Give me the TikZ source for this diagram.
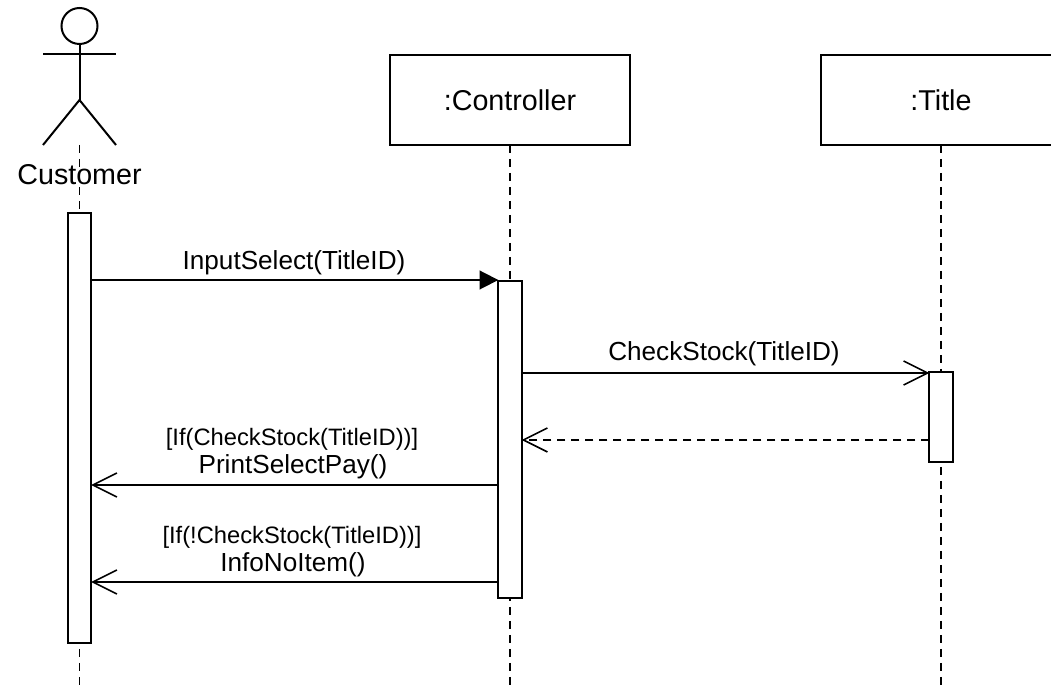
\documentclass[tikz,border=0pt]{standalone}
\usepackage{fontspec}
\setmainfont{Liberation Sans}
\usetikzlibrary{arrows.meta}
\tikzset{%
  classbox/.style={draw,line width=1.5pt,minimum width=179.5pt,minimum height=67.5pt,
    inner sep=0pt,outer sep=0pt,font=\fontsize{21.5}{25}\selectfont},%
  actbar/.style={draw,line width=1.5pt,fill=white,minimum width=17.5pt,
    inner sep=0pt,outer sep=0pt,anchor=north},%
  lifeline/.style={dashed,line width=1.3pt,dash pattern=on 6pt off 4.5pt},%
  stick/.style={line width=1.5pt},%
  msgcall/.style={line width=1.3pt,-{Triangle[length=14pt,width=14pt]}},%
  msgopen/.style={line width=1.3pt,-{Straight Barb[length=18pt,width=18pt,line width=1.2pt]}},%
  msgback/.style={msgopen,dashed,dash pattern=on 6pt off 4.5pt},%
  msglabel/.style={inner sep=0pt,outer sep=0pt,font=\fontsize{19.6}{23}\selectfont},%
  guardlabel/.style={inner sep=0pt,outer sep=0pt,font=\fontsize{17.8}{21}\selectfont},%
}
\begin{document}
\begin{tikzpicture}[x=0.75pt,y=-0.75pt]
    \useasboundingbox (0,0) rectangle (1051,691);
    \def\xCust{79.5} % customer lifeline
    \def\xCtrl{510} % controller lifeline
    \def\xTitle{941} % title lifeline

    % the actor
    \coordinate (hip) at (\xCust,100);
    \coordinate (armL) at (43,54);
    \coordinate (armR) at (116,54);
    \coordinate (legL) at (43,145);
    \coordinate (legR) at (116,145);
    \node[circle,draw,line width=1.5pt,minimum size=27pt,inner sep=0pt,outer sep=0pt] (head) at (\xCust,26) {};
    \draw[stick] (head.south) -- (hip);
    \draw[stick] (armL) -- (armR);
    \draw[stick] (legL) -- (hip) -- (legR);

    % class boxes
    \node[classbox] (ctrl) at (\xCtrl,100) {:Controller};
    \node[classbox] (title) at (\xTitle,100) {:Title};

    % free ends of the lifelines
    \coordinate (custtop) at (\xCust,145);
    \coordinate (custend) at (\xCust,691);
    \coordinate (ctrlend) at (\xCtrl,685);
    \coordinate (titleend) at (\xTitle,685);
    \draw[lifeline] (custtop) -- (custend);
    \draw[lifeline] (ctrl.south) -- (ctrlend);
    \draw[lifeline] (title.south) -- (titleend);
    \node[inner sep=0pt,font=\fontsize{21.5}{25}\selectfont] (custname) at (\xCust,175) {Customer};

    % activation bars
    \node[actbar,minimum height=322.5pt] (custbar) at (\xCust,213) {};
    \node[actbar,minimum height=237.75pt] (ctrlbar) at (\xCtrl,281) {};
    \node[actbar,minimum height=67.5pt] (titlebar) at (\xTitle,372) {};

    % message heights
    \coordinate (m1) at (0,280);
    \coordinate (m2) at (0,373);
    \coordinate (m3) at (0,440);
    \coordinate (m4) at (0,485);
    \coordinate (m5) at (0,582);

    \draw[msgcall] (custbar.east |- m1) -- (ctrlbar.west |- m1);
    \draw[msgopen] (ctrlbar.east |- m2) -- (titlebar.west |- m2);
    \draw[msgback] (titlebar.west |- m3) -- (ctrlbar.east |- m3);
    \draw[msgopen] (ctrlbar.west |- m4) -- (custbar.east |- m4);
    \draw[msgopen] (ctrlbar.west |- m5) -- (custbar.east |- m5);

    \node[msglabel] (lblselect) at (294,263) {InputSelect(TitleID)};
    \node[msglabel] (lblstock) at (724,354) {CheckStock(TitleID)};
    \node[guardlabel] (lblguarda) at (292,439) {[If(CheckStock(TitleID))]};
    \node[msglabel] (lblprint) at (293,467) {PrintSelectPay()};
    \node[guardlabel] (lblguardb) at (292,537) {[If(!CheckStock(TitleID))]};
    \node[msglabel] (lblinfo) at (293,565) {InfoNoItem()};
\end{tikzpicture}
\end{document}
